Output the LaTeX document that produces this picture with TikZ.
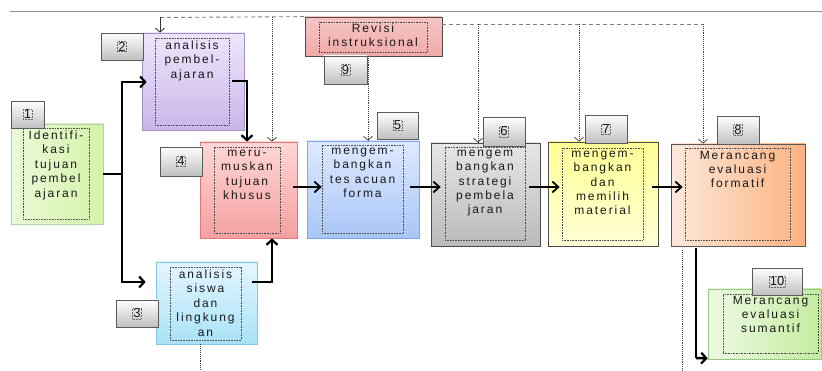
\documentclass[tikz,border=0pt]{standalone}
\usepackage{fontspec}
\setmainfont{Liberation Sans}
\newfontfamily\bxfont{Liberation Sans}[LetterSpace=16]
\usetikzlibrary{arrows.meta,shadows,calc}
\definecolor{lbord}{RGB}{90,90,90}
\begin{document}
\begin{tikzpicture}[x=1pt,y=-1pt,
  box/.style={draw, line width=0.7pt, inner sep=0pt,
    drop shadow={opacity=0.25, shadow xshift=1.2pt, shadow yshift=-1.2pt}},
  inbox/.style={draw=black!70, densely dotted, line width=0.6pt, inner sep=0pt},
  txt/.style={font=\bxfont\fontsize{12}{14.4}\selectfont, align=center, anchor=north, inner sep=0pt, text=black!90},
  numbox/.style={draw=lbord, line width=0.8pt, top color=white, bottom color=black!25, inner sep=0pt,
    drop shadow={opacity=0.3, shadow xshift=1.2pt, shadow yshift=-1.2pt}},
  num/.style={draw=black!60, densely dotted, line width=0.5pt, inner sep=0.7pt, font=\fontsize{13}{13}\selectfont, text=black!90},
  thk/.style={line width=2.6pt, -{Straight Barb[length=5pt,width=11pt,line width=2.2pt]}},
  mid/.style={line width=1.8pt, -{Straight Barb[length=6pt,width=11pt,line width=1.8pt]}},
  dsh/.style={draw=black!50, line width=0.9pt, dash pattern=on 4pt off 3pt},
  dtt/.style={draw=black!75, line width=0.9pt, densely dotted, -{Straight Barb[length=4pt,width=9pt,line width=0.7pt]}},
  dtl/.style={draw=black!75, line width=0.9pt, densely dotted},
]
\useasboundingbox[fill=white] (0,0) rectangle (822,371);
\draw[black!45, line width=1pt] (10,12) -- (822,12);

% ---- main boxes
\node[box, draw=green!40!black!30, left color={rgb,255:red,235;green,250;blue,215}, right color={rgb,255:red,212;green,242;blue,170}, minimum width=92pt, minimum height=100pt] (b1) at (57,174) {};
\node[inbox, minimum width=66pt, minimum height=91pt] (i1) at (56,173.5) {};
\node[txt] (t1) at ([yshift=-3pt]i1.north) {Identifi-\\kasi\\tujuan\\pembel\\ajaran};

\node[box, draw={rgb,255:red,165;green,145;blue,200}, top color={rgb,255:red,238;green,230;blue,252}, bottom color={rgb,255:red,200;green,182;blue,232}, minimum width=102pt, minimum height=97pt] (b2) at (193,81.5) {};
\node[inbox, minimum width=74pt, minimum height=87pt] (i2) at (192,81.5) {};
\node[txt] (t2) at ([yshift=-3pt]i2.north) {analisis\\pembel-\\ajaran};

\node[box, draw={rgb,255:red,130;green,200;blue,230}, top color={rgb,255:red,228;green,246;blue,255}, bottom color={rgb,255:red,168;green,226;blue,246}, minimum width=101pt, minimum height=82pt] (b3) at (206.5,303) {};
\node[inbox, minimum width=71pt, minimum height=73pt] (i3) at (205.5,303.5) {};
\node[txt] (t3) at ([yshift=-3pt]i3.north) {analisis\\siswa\\dan\\lingkung\\an};

\node[box, draw={rgb,255:red,225;green,120;blue,120}, top color={rgb,255:red,255;green,214;blue,214}, bottom color={rgb,255:red,244;green,160;blue,160}, minimum width=97pt, minimum height=96pt] (b4) at (248.5,190) {};
\node[inbox, minimum width=66pt, minimum height=86pt] (i4) at (247,190) {};
\node[txt] (t4) at ([yshift=-3pt]i4.north) {meru-\\muskan\\tujuan\\khusus};

\node[box, draw={rgb,255:red,130;green,165;blue,230}, top color={rgb,255:red,222;green,233;blue,255}, bottom color={rgb,255:red,168;green,198;blue,246}, minimum width=112pt, minimum height=97pt] (b5) at (363,189.5) {};
\node[inbox, minimum width=81pt, minimum height=88pt] (i5) at (362.5,189) {};
\node[txt] (t5) at ([yshift=-3pt]i5.north) {mengem-\\bangkan\\tes acuan\\forma};

\node[box, draw=black!70, top color=black!10, bottom color=black!27, minimum width=109pt, minimum height=103pt] (b6) at (485.5,194.5) {};
\node[inbox, minimum width=80pt, minimum height=93pt] (i6) at (485,193.5) {};
\node[txt] (t6) at ([yshift=-3pt]i6.north) {mengem\\bangkan\\strategi\\pembela\\jaran};

\node[box, draw=black!70, top color={rgb,255:red,255;green,255;blue,150}, bottom color={rgb,255:red,255;green,255;blue,215}, minimum width=110pt, minimum height=104pt] (b7) at (603,194) {};
\node[inbox, minimum width=81pt, minimum height=92pt] (i7) at (602.5,194) {};
\node[txt] (t7) at ([yshift=-3pt]i7.north) {mengem-\\bangkan\\dan\\memilih\\material};

\node[box, draw=black!65, left color={rgb,255:red,253;green,232;blue,218}, right color={rgb,255:red,250;green,178;blue,128}, minimum width=134pt, minimum height=102pt] (b8) at (738,195) {};
\node[inbox, minimum width=105pt, minimum height=92pt] (i8) at (737.5,194) {};
\node[txt] (t8) at ([yshift=-3pt]i8.north) {Merancang\\evaluasi\\formatif};

\node[box, draw=black!70, top color={rgb,255:red,246;green,196;blue,196}, bottom color={rgb,255:red,240;green,170;blue,170}, minimum width=137pt, minimum height=39pt] (b9) at (373.5,36.5) {};
\node[inbox, minimum width=108pt, minimum height=30pt] (i9) at (373,37) {};
\node[txt] (t9) at ([yshift=-2pt]i9.north) {Revisi\\instruksional};

\node[box, draw={rgb,255:red,150;green,200;blue,130}, left color={rgb,255:red,238;green,250;blue,228}, right color={rgb,255:red,196;green,236;blue,160}, minimum width=113pt, minimum height=70pt] (b10) at (764.5,324) {};
\node[inbox, minimum width=95pt, minimum height=59pt] (i10) at (770.5,323.5) {};
\node[txt] (t10) at ([yshift=-2pt]i10.north) {Merancang\\evaluasi\\sumantif};

% ---- number labels
\node[numbox, minimum width=33pt, minimum height=27pt] (n1) at (27.5,114.5) {};
\node[num] at (n1) {1};
\node[numbox, minimum width=42pt, minimum height=27pt] (n2) at (122,46.5) {};
\node[num] at (n2) {2};
\node[numbox, minimum width=42pt, minimum height=27pt] (n3) at (137,313.5) {};
\node[num] at (n3) {3};
\node[numbox, minimum width=42pt, minimum height=29pt] (n4) at (181,161.5) {};
\node[num] at (n4) {4};
\node[numbox, minimum width=41pt, minimum height=27pt] (n5) at (397.5,125.5) {};
\node[num] at (n5) {5};
\node[numbox, minimum width=42pt, minimum height=29pt] (n6) at (504,131.5) {};
\node[num] at (n6) {6};
\node[numbox, minimum width=42pt, minimum height=28pt] (n7) at (606,129) {};
\node[num] at (n7) {7};
\node[numbox, minimum width=42pt, minimum height=28pt] (n8) at (738,130) {};
\node[num] at (n8) {8};
\node[numbox, minimum width=43pt, minimum height=28pt] (n9) at (345.5,70) {};
\node[num] at (n9) {9};
\node[numbox, minimum width=50pt, minimum height=27pt] (n10) at (777,281.5) {};
\node[num] at (n10) {10};

% ---- solid connectors
\coordinate (j1) at (122,174);
\coordinate (j2) at (122,82);
\coordinate (j3) at (122,282);
\draw[line width=1.8pt] (b1.east) -- (j1);
\draw[line width=2.6pt] ([yshift=1.3pt]j2) -- ([yshift=-1.3pt]j3);
\draw[thk] (j2) -- ($(b2.west |- j2)+(5,0)$);
\draw[thk] (j3) -- ($(b3.west |- j3)+(-10,0)$);

\coordinate (k2) at (247,81);
\draw[line width=1.2pt] ($(b2.east |- k2)+(-12,0)$) -- (k2);
\draw[thk] ([yshift=1pt]k2) -- (k2 |- b4.north);

\coordinate (k3) at (272,282);
\draw[line width=2pt] ($(b3.east |- k3)+(-5,0)$) -- (k3);
\draw[thk] ([yshift=-1pt]k3) -- (k3 |- b4.south);

\coordinate (ay) at (0,187);
\draw[mid] ($(b4.east |- ay)+(-4,0)$) -- ($(b5.west |- ay)+(15,0)$);
\draw[mid] ($(b5.east |- ay)+(-9,0)$) -- ($(b6.west |- ay)+(10,0)$);
\draw[mid] ($(b6.east |- ay)+(-11,0)$) -- ($(b7.west |- ay)+(12,0)$);
\draw[mid] ($(b7.east |- ay)+(-6,0)$) -- ($(b8.west |- ay)+(12,0)$);

\coordinate (k8) at (696,248);
\draw[line width=2.6pt] (k8) -- ++(0,110);
\draw[thk] (696,358) -- ($(b10.south west)+(0,-1)$);

% ---- feedback (dashed) connectors
\coordinate (c0) at (160,17.5);
\coordinate (c1) at (272,17.5);
\draw[dsh] (c0) -- (b9.north west);
\draw[draw=black!80, line width=0.8pt, -{Straight Barb[length=4pt,width=9pt,line width=0.8pt]}] (c0) -- (c0 |- b2.north);
\draw[dtt] (c1) -- (c1 |- b4.north);

\coordinate (r0) at (442,24);
\coordinate (r1) at (478,24);
\coordinate (r2) at (579,24);
\coordinate (r3) at (703,24);
\draw[dsh] (r0) -- (r3);
\draw[dtt] (r1) -- (r1 |- b6.north);
\draw[dtt] (r2) -- (r2 |- b7.north);
\draw[dtt] (r3) -- (r3 |- b8.north);
\coordinate (s9) at (368,56);
\draw[dtt] (s9) -- (s9 |- b5.north);

\coordinate (d3) at (200,371);
\coordinate (d8) at (682,371);
\draw[dtl] (d3 |- b3.south) -- (d3);
\draw[dtl] ($(d8 |- b8.south)+(0,4)$) -- (d8);
\end{tikzpicture}
\end{document}
